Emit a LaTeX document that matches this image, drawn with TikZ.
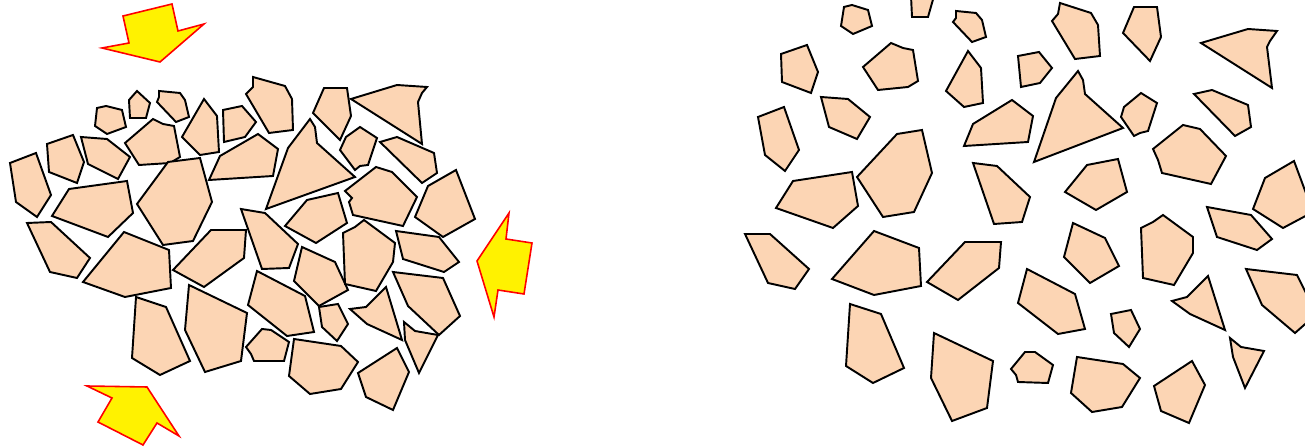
\documentclass[tikz,border=0pt]{standalone}
\usepackage{tikz}
\usetikzlibrary{calc}

\definecolor{peach}{HTML}{FCD5B4}

\tikzset{
  piece/.style={draw=black, fill=peach, line width=1.1pt},
  push/.style={draw=red, fill=yellow, line width=0.9pt}
}

\begin{document}
\begin{tikzpicture}[x=0.02cm, y=-0.02cm]

  \useasboundingbox (0,0) rectangle (1305,448);

  %--------------------------
  % Left: packed fragments under pressure
  %--------------------------
  \begin{scope}
    \draw[piece] (97,108) -- (106,106) -- (122,110) -- (126,127) -- (107,134) -- (95,126) -- cycle;
    \draw[piece] (129,100) -- (137,91) -- (150,103) -- (146,118) -- (130,118) -- cycle;
    \draw[piece] (159,91) -- (180,93) -- (185,100) -- (189,117) -- (176,122) -- (157,102) -- (159,97) -- cycle;
    \draw[piece] (204,99) -- (217,116) -- (219,152) -- (200,155) -- (182,137) -- (193,118) -- cycle;
    \draw[piece] (223,110) -- (242,106) -- (256,122) -- (245,137) -- (224,142) -- cycle;
    \draw[piece] (125,143) -- (153,119) -- (163,124) -- (174,126) -- (180,157) -- (170,163) -- (139,165) -- cycle;
    \draw[piece] (81,137) -- (107,139) -- (130,157) -- (118,179) -- (88,164) -- cycle;
    \draw[piece] (47,144) -- (73,135) -- (84,162) -- (77,183) -- (49,172) -- cycle;
    \draw[piece] (10,163) -- (36,153) -- (51,195) -- (37,217) -- (16,202) -- cycle;
    \draw[piece] (69,189) -- (127,181) -- (133,213) -- (108,237) -- (52,216) -- cycle;
    \draw[piece] (137,204) -- (168,162) -- (200,158) -- (212,202) -- (193,241) -- (163,245) -- cycle;
    \draw[piece] (209,180) -- (220,156) -- (258,134) -- (278,149) -- (273,176) -- cycle;
    \draw[piece] (253,77) -- (285,86) -- (292,99) -- (293,130) -- (269,133) -- (246,94) -- (253,87) -- cycle;
    \draw[piece] (324,88) -- (347,88) -- (351,116) -- (340,140) -- (313,113) -- cycle;
    \draw[piece] (351,99) -- (397,85) -- (427,87) -- (422,93) -- (418,102) -- (422,144) -- cycle;
    \draw[piece] (266,209) -- (288,148) -- (310,119) -- (315,127) -- (317,143) -- (355,177) -- cycle;
    \draw[piece] (340,150) -- (346,137) -- (360,127) -- (377,138) -- (368,165) -- (360,166) -- (355,170) -- cycle;
    \draw[piece] (380,142) -- (397,137) -- (434,153) -- (437,173) -- (422,183) -- cycle;
    \draw[piece] (285,226) -- (307,200) -- (338,193) -- (347,223) -- (316,243) -- cycle;
    \draw[piece] (345,191) -- (376,167) -- (392,172) -- (417,197) -- (403,226) -- (353,215) -- (349,202) -- (352,198) -- cycle;
    \draw[piece] (415,217) -- (428,186) -- (456,170) -- (475,219) -- (443,237) -- cycle;
    \draw[piece] (27,223) -- (51,222) -- (90,258) -- (77,278) -- (50,272) -- cycle;
    \draw[piece] (83,282) -- (124,232) -- (169,250) -- (171,288) -- (125,297) -- cycle;
    \draw[piece] (173,270) -- (211,230) -- (246,230) -- (244,258) -- (204,287) -- cycle;
    \draw[piece] (136,297) -- (166,307) -- (190,361) -- (160,375) -- (132,358) -- cycle;
    \draw[piece] (189,285) -- (247,313) -- (241,361) -- (205,372) -- (185,330) -- cycle;
    \draw[piece] (241,209) -- (265,213) -- (298,244) -- (289,268) -- (262,269) -- cycle;
    \draw[piece] (302,247) -- (335,262) -- (348,290) -- (319,306) -- (294,281) -- cycle;
    \draw[piece] (257,271) -- (305,296) -- (314,332) -- (287,336) -- (248,305) -- cycle;
    \draw[piece] (319,307) -- (338,304) -- (348,324) -- (337,341) -- (322,327) -- cycle;
    \draw[piece] (343,233) -- (355,227) -- (364,220) -- (395,243) -- (393,262) -- (376,291) -- (345,284) -- cycle;
    \draw[piece] (396,231) -- (439,237) -- (459,262) -- (444,272) -- (403,259) -- cycle;
    \draw[piece] (393,272) -- (443,278) -- (460,316) -- (439,335) -- (408,306) -- cycle;
    \draw[piece] (350,309) -- (366,307) -- (386,287) -- (402,340) -- (367,324) -- cycle;
    \draw[piece] (404,322) -- (415,331) -- (438,335) -- (419,373) -- (405,340) -- cycle;
    \draw[piece] (246,347) -- (262,329) -- (271,330) -- (289,342) -- (284,361) -- (254,361) -- (251,354) -- cycle;
    \draw[piece] (294,339) -- (341,346) -- (358,362) -- (341,389) -- (310,394) -- (289,376) -- cycle;
    \draw[piece] (358,373) -- (397,348) -- (409,372) -- (393,410) -- (366,397) -- cycle;

    % pressure arrows
    \draw[push] (123,16) -- (172,4) -- (178,31) -- (204,24) -- (160,62) -- (102,48) -- (129,43) -- cycle;
    \draw[push] (87,386) -- (147,387) -- (179,436) -- (157,423) -- (143,445) -- (98,422) -- (112,398) -- cycle;
    \draw[push] (477,261) -- (509,213) -- (506,239) -- (532,243) -- (524,294) -- (498,290) -- (494,317) -- cycle;
  \end{scope}

  %--------------------------
  % Right: fragments spread apart
  %--------------------------
  \begin{scope}
    \draw[piece] (844,7) -- (852,5) -- (868,10) -- (872,26) -- (853,34) -- (841,26) -- cycle;
    \draw[piece] (911,-4) -- (912,17) -- (928,17) -- (934,-4) -- cycle;
    \draw[piece] (956,11) -- (976,13) -- (982,20) -- (986,37) -- (972,42) -- (953,22) -- (956,18) -- cycle;
    \draw[piece] (781,54) -- (807,45) -- (818,72) -- (811,93) -- (782,82) -- cycle;
    \draw[piece] (863,67) -- (891,43) -- (903,48) -- (913,50) -- (918,81) -- (908,87) -- (878,90) -- cycle;
    \draw[piece] (946,91) -- (968,51) -- (981,68) -- (983,103) -- (964,107) -- cycle;
    \draw[piece] (1018,56) -- (1039,52) -- (1052,68) -- (1040,83) -- (1021,87) -- cycle;
    \draw[piece] (964,146) -- (973,124) -- (1012,100) -- (1033,116) -- (1028,142) -- cycle;
    \draw[piece] (821,97) -- (848,99) -- (870,117) -- (857,139) -- (829,127) -- cycle;
    \draw[piece] (758,117) -- (784,107) -- (799,150) -- (785,171) -- (765,155) -- cycle;
    \draw[piece] (857,177) -- (897,134) -- (922,130) -- (932,173) -- (914,212) -- (883,217) -- cycle;
    \draw[piece] (776,208) -- (793,181) -- (852,172) -- (858,206) -- (833,228) -- cycle;
    \draw[piece] (973,163) -- (997,166) -- (1030,197) -- (1022,222) -- (994,224) -- cycle;
    \draw[piece] (1060,3) -- (1091,13) -- (1098,25) -- (1100,56) -- (1075,59) -- (1052,21) -- (1058,14) -- cycle;
    \draw[piece] (1134,7) -- (1157,7) -- (1161,37) -- (1150,61) -- (1123,33) -- cycle;
    \draw[piece] (1201,43) -- (1248,29) -- (1277,31) -- (1270,41) -- (1267,47) -- (1272,88) -- cycle;
    \draw[piece] (1034,162) -- (1056,98) -- (1078,71) -- (1083,80) -- (1085,94) -- (1123,128) -- cycle;
    \draw[piece] (1121,117) -- (1124,107) -- (1141,93) -- (1157,103) -- (1148,131) -- (1140,133) -- (1134,136) -- cycle;
    \draw[piece] (1194,94) -- (1212,90) -- (1248,105) -- (1251,127) -- (1235,136) -- cycle;
    \draw[piece] (1153,149) -- (1183,125) -- (1200,129) -- (1226,156) -- (1211,184) -- (1162,173) -- (1158,160) -- cycle;
    \draw[piece] (1253,209) -- (1265,178) -- (1294,161) -- (1313,212) -- (1283,228) -- cycle;
    \draw[piece] (1065,192) -- (1087,165) -- (1118,159) -- (1127,192) -- (1096,210) -- cycle;
    \draw[piece] (745,234) -- (770,234) -- (809,269) -- (795,289) -- (768,283) -- cycle;
    \draw[piece] (832,279) -- (874,231) -- (919,248) -- (921,286) -- (874,295) -- cycle;
    \draw[piece] (927,282) -- (965,242) -- (1001,242) -- (999,268) -- (958,300) -- cycle;
    \draw[piece] (850,304) -- (881,314) -- (904,368) -- (873,383) -- (846,366) -- cycle;
    \draw[piece] (934,333) -- (993,361) -- (987,408) -- (952,421) -- (931,378) -- cycle;
    \draw[piece] (1011,369) -- (1025,352) -- (1035,352) -- (1053,365) -- (1048,383) -- (1018,382) -- (1016,375) -- cycle;
    \draw[piece] (1077,357) -- (1123,364) -- (1140,378) -- (1122,407) -- (1092,412) -- (1071,393) -- cycle;
    \draw[piece] (1154,386) -- (1192,361) -- (1205,385) -- (1189,423) -- (1161,411) -- cycle;
    \draw[piece] (1027,269) -- (1075,294) -- (1085,329) -- (1058,334) -- (1018,303) -- cycle;
    \draw[piece] (1073,223) -- (1105,238) -- (1119,266) -- (1090,283) -- (1064,257) -- cycle;
    \draw[piece] (1141,228) -- (1153,222) -- (1163,215) -- (1193,237) -- (1193,253) -- (1174,285) -- (1143,278) -- cycle;
    \draw[piece] (1207,207) -- (1251,215) -- (1272,239) -- (1257,250) -- (1217,237) -- cycle;
    \draw[piece] (1246,269) -- (1297,275) -- (1312,305) -- (1312,318) -- (1295,333) -- (1262,305) -- cycle;
    \draw[piece] (1172,301) -- (1187,297) -- (1208,276) -- (1225,330) -- (1190,314) -- cycle;
    \draw[piece] (1111,314) -- (1131,310) -- (1140,329) -- (1129,347) -- (1114,333) -- cycle;
    \draw[piece] (1230,338) -- (1241,347) -- (1264,351) -- (1245,388) -- (1233,357) -- cycle;
  \end{scope}

\end{tikzpicture}
\end{document}
